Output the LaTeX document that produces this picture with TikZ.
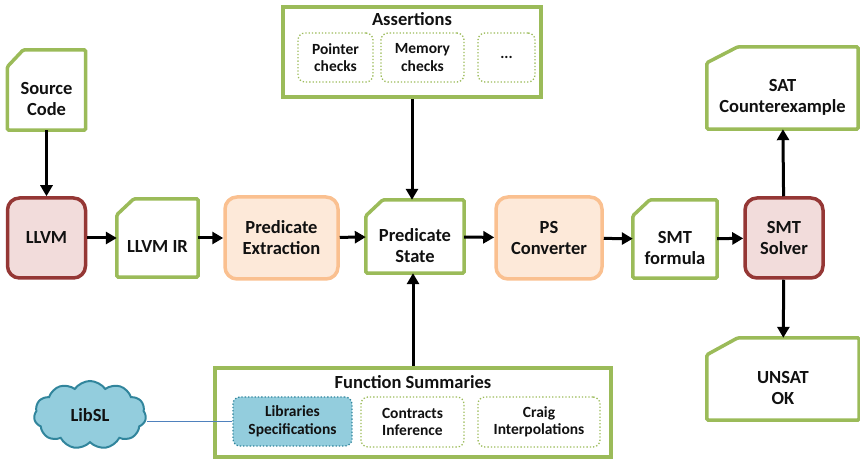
\documentclass[tikz,border=0pt]{standalone}
\usepackage{fontspec}
\setmainfont{Carlito}
\usetikzlibrary{shapes.symbols,arrows.meta}

\definecolor{docgreen}{HTML}{9BBB59}
\definecolor{redline}{HTML}{953735}
\definecolor{redfill}{HTML}{F2DCDB}
\definecolor{orline}{HTML}{FAC090}
\definecolor{orfill}{HTML}{FDE9D9}
\definecolor{skyfill}{HTML}{93CDDD}
\definecolor{skyline}{HTML}{31859C}
\definecolor{linkblue}{HTML}{4F81BD}
\definecolor{ink}{HTML}{111111}

% outline of a document with its top-left corner cut off
\newcommand\docoutline[3]{%
  \draw[docline] ([yshift=-#3pt]#1.north west) -- ([xshift=#2pt]#1.north west)
    -- (#1.north east) -- (#1.south east) -- (#1.south west) -- cycle;}

\tikzset{
  base/.style={font=\bfseries\fontsize{18.5}{21}\selectfont, text=ink, align=center, inner sep=0pt},
  smalltext/.style={font=\bfseries\fontsize{15.5}{17.5}\selectfont, text=ink, align=center, inner sep=0pt},
  docbox/.style={inner sep=0pt, draw=none},
  doctext/.style={base, yshift=-9pt},
  docline/.style={draw=docgreen, line width=3.5pt, rounded corners=1.5pt},
  redbox/.style={base, draw=redline, fill=redfill, line width=3.5pt, rounded corners=12pt},
  orbox/.style={base, draw=orline, fill=orfill, line width=3.5pt, rounded corners=12pt},
  frame/.style={draw=docgreen, line width=4pt, inner sep=0pt},
  subbox/.style={smalltext, draw=docgreen, dotted, line width=1.3pt, rounded corners=7pt},
  libbox/.style={smalltext, draw=skyline, fill=skyfill, dotted, line width=1.3pt, rounded corners=7pt},
  arr/.style={draw=black, line width=3pt, -{Triangle[length=11pt,width=12pt]}}
}

\begin{document}
\begin{tikzpicture}[x=1pt,y=-1pt]
\useasboundingbox (0,0) rectangle (860,462);

% documents
\node[docbox, minimum width=78pt, minimum height=80pt, label={[doctext]center:Source\\Code}] (src) at (46.5,90) {};
\node[docbox, minimum width=81pt, minimum height=78pt, label={[doctext]center:LLVM IR}] (ir) at (157.5,238) {};
\node[docbox, minimum width=98pt, minimum height=73pt, label={[doctext]center:Predicate\\State}] (ps) at (415,236.5) {};
\node[docbox, minimum width=84pt, minimum height=78pt, label={[doctext]center:SMT\\formula}] (smt) at (675,239) {};
\node[docbox, minimum width=151pt, minimum height=82pt, label={[doctext]center:SAT\\Counterexample}] (sat) at (782.5,88) {};
\node[docbox, minimum width=152pt, minimum height=82pt, label={[doctext]center:UNSAT\\OK}] (unsat) at (783,379) {};
\docoutline{src}{16}{17}
\docoutline{ir}{17}{16}
\docoutline{ps}{17}{16}
\docoutline{smt}{17}{16}
\docoutline{sat}{31}{16}
\docoutline{unsat}{31}{17}

% processing stages
\node[redbox, minimum width=78pt, minimum height=80pt] (llvm) at (46.5,238) {LLVM};
\node[orbox, minimum width=113pt, minimum height=82pt] (pe) at (281.5,238) {Predicate\\Extraction};
\node[orbox, minimum width=106pt, minimum height=82pt] (psc) at (549,238) {PS\\Converter};
\node[redbox, minimum width=78pt, minimum height=80pt] (solver) at (784,238) {SMT\\Solver};

% assertions
\node[frame, minimum width=258pt, minimum height=90pt] (assert) at (412,52) {};
\node[base] (atitle) at (412,19) {Assertions};
\node[subbox, minimum width=75pt, minimum height=49pt] (ptr) at (335.5,57.5) {Pointer\\checks};
\node[subbox, minimum width=83pt, minimum height=49pt] (mem) at (422.5,57.5) {Memory\\checks};
\node[subbox, minimum width=57pt, minimum height=49pt] (more) at (506.5,57.5) {...};

% function summaries
\node[frame, minimum width=396pt, minimum height=89pt] (fs) at (413,412.5) {};
\node[base] (ftitle) at (413,382) {Function Summaries};
\node[libbox, minimum width=119pt, minimum height=49pt] (lib) at (292.5,421.5) {Libraries\\Specifications};
\node[subbox, minimum width=103pt, minimum height=50pt] (ci) at (412.5,422) {Contracts\\Inference};
\node[subbox, minimum width=122pt, minimum height=50pt] (craig) at (539,422) {Craig\\Interpolations};

% specification library
\node[base, cloud, cloud puffs=11, cloud puff arc=110, aspect=1.6, draw=skyline, fill=skyfill,
      line width=2pt, minimum width=112pt, minimum height=68pt] (libsl) at (90,415) {LibSL};
\draw[linkblue, line width=1.2pt] (lib.west) -- (lib.west -| libsl.east);

% flow
\draw[arr] (src) -- (llvm);
\draw[arr] (llvm) -- (ir);
\draw[arr] (ir) -- (pe);
\draw[arr] (pe) -- (ps);
\draw[arr] (ps) -- (psc);
\draw[arr] (psc) -- (smt);
\draw[arr] (smt) -- (solver);
\draw[arr] (assert.south) -- (assert.south |- ps.north);
\draw[arr] (fs.north) -- (fs.north |- ps.south);
\draw[arr] (solver) -- (sat);
\draw[arr] (solver) -- (unsat);
\end{tikzpicture}
\end{document}
